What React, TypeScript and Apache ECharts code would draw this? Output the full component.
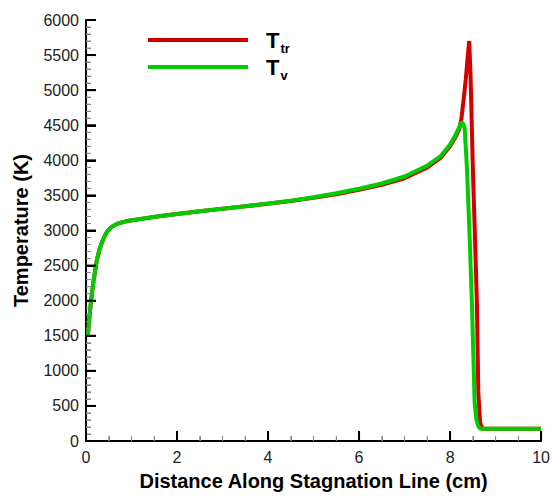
import React, { useEffect, useRef } from "react";
import * as echarts from "echarts";

// Distance along stagnation line (cm) and temperatures (K)
const ttrX = [0.04, 0.08, 0.12, 0.17, 0.23, 0.3, 0.38, 0.46, 0.56, 0.7, 0.9, 1.2, 1.6, 2, 2.5, 3, 3.5, 4, 4.5, 5, 5.5, 6, 6.5, 7, 7.5, 7.8, 8.0, 8.1, 8.2, 8.25, 8.3, 8.35, 8.39, 8.42, 8.45, 8.5, 8.55, 8.59, 8.62, 8.66, 8.71, 9, 9.5, 10];
const ttrY = [1500, 1800, 2050, 2300, 2550, 2740, 2880, 2980, 3050, 3100, 3134, 3165, 3204, 3235, 3275, 3310, 3345, 3380, 3420, 3465, 3515, 3580, 3650, 3745, 3900, 4040, 4200, 4310, 4440, 4600, 4880, 5190, 5500, 5700, 5210, 3900, 2850, 1950, 700, 260, 175, 175, 175, 175];

const tvX = [0.04, 0.08, 0.12, 0.17, 0.23, 0.3, 0.38, 0.46, 0.56, 0.7, 0.9, 1.2, 1.6, 2, 2.5, 3, 3.5, 4, 4.5, 5, 5.5, 6, 6.5, 7, 7.5, 7.8, 8.0, 8.1, 8.2, 8.25, 8.29, 8.32, 8.37, 8.43, 8.48, 8.54, 8.58, 8.62, 8.66, 8.7, 9, 9.5, 10];
const tvY = [1500, 1800, 2050, 2300, 2550, 2740, 2880, 2980, 3050, 3100, 3134, 3165, 3204, 3235, 3275, 3310, 3345, 3385, 3425, 3475, 3530, 3595, 3670, 3770, 3925, 4065, 4225, 4335, 4470, 4545, 4520, 4460, 3900, 2900, 1945, 546, 300, 210, 180, 175, 175, 175, 175];

// Tick positions
const xMajor = [0, 2, 4, 6, 8, 10];
const xMinor = [0.5, 1, 1.5, 2.5, 3, 3.5, 4.5, 5, 5.5, 6.5, 7, 7.5, 8.5, 9, 9.5];
const yMajor = [0, 500, 1000, 1500, 2000, 2500, 3000, 3500, 4000, 4500, 5000, 5500, 6000];
const yMinor = [100, 200, 300, 400, 600, 700, 800, 900, 1100, 1200, 1300, 1400, 1600, 1700, 1800, 1900, 2100, 2200, 2300, 2400, 2600, 2700, 2800, 2900, 3100, 3200, 3300, 3400, 3600, 3700, 3800, 3900, 4100, 4200, 4300, 4400, 4600, 4700, 4800, 4900, 5100, 5200, 5300, 5400, 5600, 5700, 5800, 5900];

const FONT = "Liberation Sans, Arial, sans-serif";

export default function App() {
  const ref = useRef<HTMLDivElement>(null);
  useEffect(() => {
    if (!ref.current) return;
    const chart = echarts.init(ref.current, undefined, { renderer: "svg" });
    const pair = (xs: number[], ys: number[]) => xs.map((x, i) => [x, ys[i]]);
    const legendRich = (sub: string) => ({
      formatter: () => `{T|T}{s|${sub}}`,
      textStyle: {
        rich: {
          T: { fontSize: 22, fontWeight: "bold", fontFamily: FONT, color: "#000", lineHeight: 22, padding: [0, 0, 0, 13], verticalAlign: "top" },
          s: { fontSize: 13, fontWeight: "bold", fontFamily: FONT, color: "#000", lineHeight: 14, padding: [13, 0, 0, 1], verticalAlign: "top" },
        },
      },
    });
    const tickSeries = (vals: number[], isX: boolean, len: number, color: string, width: number) => ({
      type: "custom",
      silent: true,
      clip: false,
      z: 4,
      data: vals.map((v) => (isX ? [v, 0] : [0, v])),
      renderItem: (_params: any, api: any) => {
        const p = api.coord([api.value(0), api.value(1)]);
        return {
          type: "line",
          shape: isX
            ? { x1: p[0], y1: p[1], x2: p[0], y2: p[1] - len }
            : { x1: p[0], y1: p[1], x2: p[0] + len, y2: p[1] },
          style: { stroke: color, lineWidth: width },
        };
      },
    });
    chart.setOption({
      animation: false,
      backgroundColor: "#fff",
      grid: { left: 86, right: 10, top: 20, bottom: 47 },
      legend: [
        {
          data: ["Ttr"], left: 148, top: 29, padding: 0, orient: "vertical",
          itemWidth: 100, itemHeight: 4, icon: "rect", ...legendRich("tr"),
        },
        {
          data: ["Tv"], left: 148, top: 56, padding: 0, orient: "vertical",
          itemWidth: 100, itemHeight: 4, icon: "rect", ...legendRich("v"),
        },
      ],
      xAxis: {
        type: "value", min: 0, max: 10, interval: 2,
        name: "Distance Along Stagnation Line (cm)", nameGap: 30, nameLocation: "middle",
        nameTextStyle: { fontSize: 20, fontWeight: "bold", color: "#000", fontFamily: FONT },
        axisLine: { show: true, lineStyle: { color: "#000", width: 2 } },
        axisTick: { show: true, inside: true, length: 10, lineStyle: { color: "#000", width: 2 } },
        minorTick: { show: true, splitNumber: 4, length: 5, lineStyle: { color: "#888", width: 1 } },
        splitLine: { show: false },
        axisLabel: { fontSize: 16, color: "#222", fontFamily: FONT, margin: 8, formatter: (v: number) => String(v) },
      },
      yAxis: {
        type: "value", min: 0, max: 6000, interval: 500,
        name: "Temperature (K)", nameGap: 55, nameLocation: "middle",
        nameTextStyle: { fontSize: 20, fontWeight: "bold", color: "#000", fontFamily: FONT },
        axisLine: { show: true, lineStyle: { color: "#000", width: 2 } },
        axisTick: { show: true, inside: true, length: 10, lineStyle: { color: "#000", width: 2 } },
        minorTick: { show: true, splitNumber: 5, length: 5, lineStyle: { color: "#888", width: 1 } },
        splitLine: { show: false },
        axisLabel: { fontSize: 16, color: "#222", fontFamily: FONT, margin: 7, formatter: (v: number) => String(v) },
      },
      series: [
        {
          name: "Ttr", type: "line", data: pair(ttrX, ttrY), showSymbol: false,
          lineStyle: { color: "#d40000", width: 4 }, itemStyle: { color: "#d40000" }, z: 2,
        },
        {
          name: "Tv", type: "line", data: pair(tvX, tvY), showSymbol: false,
          lineStyle: { color: "#00cc00", width: 4 }, itemStyle: { color: "#00cc00" }, z: 3,
        },
        tickSeries(xMinor, true, 5, "#888", 1),
        tickSeries(yMinor, false, 5, "#888", 1),
        tickSeries(xMajor, true, 10, "#000", 2),
        tickSeries(yMajor, false, 10, "#000", 2),
      ],
    });
    return () => chart.dispose();
  }, []);
  return <div ref={ref} style={{ position: "absolute", left: 0, top: 0, width: 553, height: 496 }} />;
}
